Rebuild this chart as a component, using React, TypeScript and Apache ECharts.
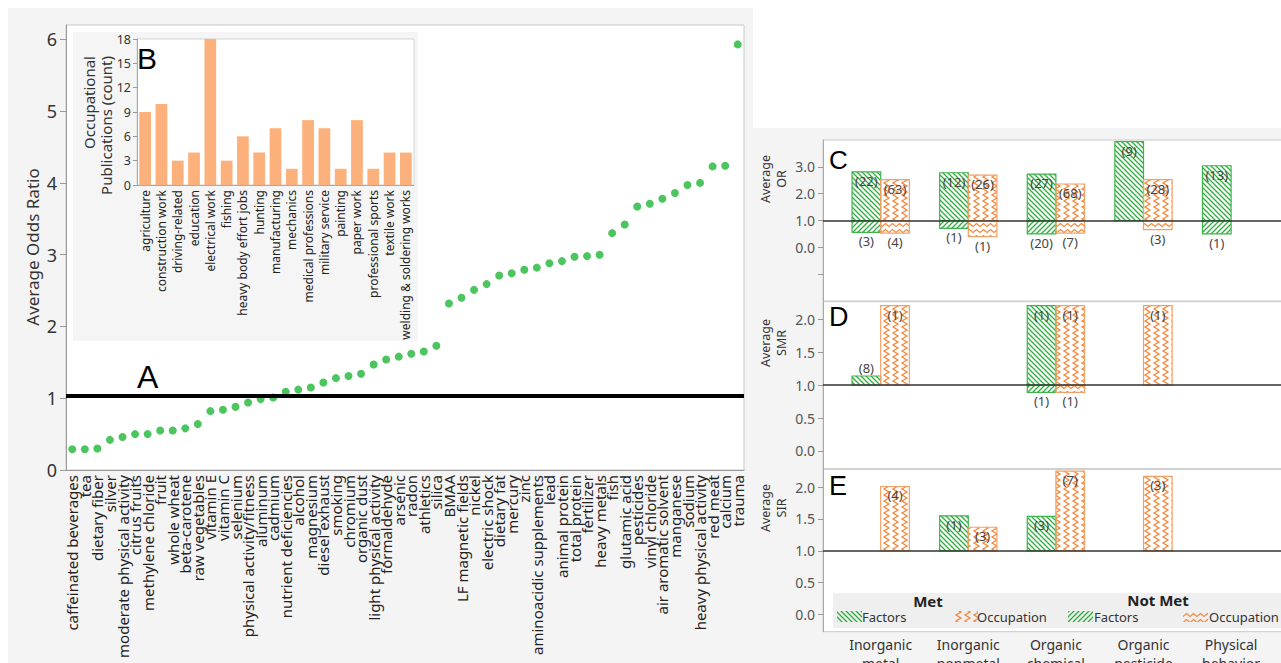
import React, { useEffect, useRef } from 'react';
import * as echarts from 'echarts';

const FONT = "'Noto Sans', 'Open Sans', sans-serif";
const LETTER_FONT = "'Liberation Sans', Arial, sans-serif";

// ---------- Panel A ----------
const factorNames = [
  'caffeinated beverages', 'tea', 'dietary fiber', 'silver', 'moderate physical activity',
  'citrus fruits', 'methylene chloride', 'fruit', 'whole wheat', 'beta-carotene',
  'raw vegetables', 'vitamin E', 'vitamin C', 'selenium', 'physical activity/fitness',
  'aluminum', 'cadmium', 'nutrient deficiencies', 'alcohol', 'magnesium',
  'diesel exhaust', 'smoking', 'chromium', 'organic dust', 'light physical activity',
  'formaldehyde', 'arsenic', 'radon', 'athletics', 'silica',
  'BMAA', 'LF magnetic fields', 'nickel', 'electric shock', 'dietary fat',
  'mercury', 'zinc', 'aminoacidic supplements', 'lead', 'animal protein',
  'total protein', 'fertilizer', 'heavy metals', 'fish', 'glutamic acid',
  'pesticides', 'vinyl chloride', 'air aromatic solvent', 'manganese', 'sodium',
  'heavy physical activity', 'red meat', 'calcium', 'trauma',
];
const averageOddsRatio = [
  0.29, 0.29, 0.30, 0.42, 0.46, 0.50, 0.50, 0.55, 0.55, 0.58,
  0.64, 0.82, 0.84, 0.88, 0.94, 0.99, 1.01, 1.09, 1.12, 1.15,
  1.22, 1.28, 1.31, 1.34, 1.47, 1.54, 1.58, 1.62, 1.65, 1.73,
  2.32, 2.40, 2.51, 2.59, 2.71, 2.74, 2.79, 2.82, 2.88, 2.91,
  2.97, 2.98, 3.00, 3.30, 3.42, 3.67, 3.71, 3.78, 3.86, 3.97,
  4.00, 4.23, 4.24, 5.93,
];
const oddsTicks = [0, 1, 2, 3, 4, 5, 6];
const oddsReference = 1.04;

// ---------- Panel B ----------
const occupations = [
  'agriculture', 'construction work', 'driving-related', 'education', 'electrical work',
  'fishing', 'heavy body effort jobs', 'hunting', 'manufacturing', 'mechanics',
  'medical professions', 'military service', 'painting', 'paper work', 'professional sports',
  'textile work', 'welding & soldering works',
];
const occupationalPublications = [9, 10, 3, 4, 18, 3, 6, 4, 7, 2, 8, 7, 2, 8, 2, 4, 4];

// ---------- Panels C, D, E ----------
const exposureClasses = [
  'Inorganic\nmetal', 'Inorganic\nnonmetal', 'Organic\nchemical', 'Organic\npesticide', 'Physical\nbehavior',
];
// C: Average OR
const orFactorsMet = [2.81, 2.78, 2.73, 3.94, 3.04];
const orFactorsMetN = [22, 12, 27, 9, 13];
const orOccupationMet = [2.52, 2.69, 2.36, 2.52, null];
const orOccupationMetN = [63, 26, 68, 28, null];
const orFactorsNotMet = [0.56, 0.71, 0.50, null, 0.50];
const orFactorsNotMetN = [3, 1, 20, null, 1];
const orOccupationNotMet = [0.53, 0.40, 0.53, 0.66, null];
const orOccupationNotMetN = [4, 1, 7, 3, null];
// D: Average SMR
const smrFactorsMet = [1.14, null, 2.21, null, null];
const smrFactorsMetN = [8, null, 1, null, null];
const smrOccupationMet = [2.21, null, 2.21, 2.21, null];
const smrOccupationMetN = [1, null, 1, 1, null];
const smrFactorsNotMet = [null, null, 0.89, null, null];
const smrFactorsNotMetN = [null, null, 1, null, null];
const smrOccupationNotMet = [null, null, 0.89, null, null];
const smrOccupationNotMetN = [null, null, 1, null, null];
// E: Average SIR
const sirFactorsMet = [null, 1.55, 1.54, null, null];
const sirFactorsMetN = [null, 1, 3, null, null];
const sirOccupationMet = [2.01, 1.37, 2.25, 2.17, null];
const sirOccupationMetN = [4, 3, 7, 3, null];

const orTicks = [-1, 0, 1, 2, 3];
const orLabels = [0, 1, 2, 3];
const ratioTicks = [0, 0.5, 1, 1.5, 2];

const GREEN = '#2fae3f';
const GREEN_EDGE = '#3cb34b';
const ORANGE = '#f5883c';
const ORANGE_EDGE = '#f3a066';
const DOT = '#1fb637';
const BAR_B = '#fcb07c';

type Kind = 'back' | 'slash' | 'zigV' | 'waveH';

function makePattern(kind: Kind) {
  let w = 5, h = 5;
  if (kind === 'zigV') { w = 9; h = 6; }
  if (kind === 'waveH') { w = 7; h = 6; }
  const c = document.createElement('canvas');
  c.width = w; c.height = h;
  const ctx = c.getContext('2d')!;
  ctx.lineWidth = 1.3;
  ctx.beginPath();
  if (kind === 'back') {
    ctx.strokeStyle = GREEN;
    for (let k = -1; k <= 1; k++) { ctx.moveTo(k * w - 1, -1); ctx.lineTo(k * w + w + 1, h + 1); }
  } else if (kind === 'slash') {
    ctx.strokeStyle = GREEN;
    for (let k = -1; k <= 1; k++) { ctx.moveTo(k * w - 1, h + 1); ctx.lineTo(k * w + w + 1, -1); }
  } else if (kind === 'zigV') {
    ctx.strokeStyle = ORANGE;
    ctx.moveTo(2, -3); ctx.lineTo(7, 0); ctx.lineTo(2, 3); ctx.lineTo(7, 6); ctx.lineTo(2, 9);
  } else {
    ctx.strokeStyle = ORANGE;
    ctx.moveTo(-3.5, 1.5); ctx.lineTo(0, 4.5); ctx.lineTo(3.5, 1.5); ctx.lineTo(7, 4.5); ctx.lineTo(10.5, 1.5);
  }
  ctx.stroke();
  return { image: c, repeat: 'repeat', imageWidth: w, imageHeight: h } as any;
}

// x positions in panel C/D/E value space (category index); grid spans these
const X_MIN = -0.6587;
const X_MAX = 4.7066;

function buildOption() {
  const patterns: Record<Kind, any> = {
    back: makePattern('back'),
    slash: makePattern('slash'),
    zigV: makePattern('zigV'),
    waveH: makePattern('waveH'),
  };

  const barSeries = (
    gridIdx: number,
    values: (number | null)[],
    counts: (number | null)[],
    isFactors: boolean,
    met: boolean,
    withRef: boolean,
  ) => {
    const kind: Kind = isFactors ? (met ? 'back' : 'slash') : (met ? 'zigV' : 'waveH');
    const data = values
      .map((v, i) => (v == null ? null : [i, v, counts[i]]))
      .filter((d) => d !== null);
    const s: any = {
      type: 'custom',
      xAxisIndex: gridIdx,
      yAxisIndex: gridIdx,
      clip: false,
      z: 3,
      encode: { x: 0, y: 1 },
      data,
      renderItem: (params: any, api: any) => {
        const idx = api.value(0);
        const v = api.value(1);
        const n = api.value(2);
        const base = api.coord([idx, 1]);
        const top = api.coord([idx, v]);
        const band = api.size([1, 0])[0];
        const w = band * 0.327;
        const x = isFactors ? base[0] - w : base[0];
        const y0 = Math.min(base[1], top[1]);
        const h = Math.abs(top[1] - base[1]);
        let ty: number;
        if (v >= 1) ty = h > 20 ? top[1] + 9 : top[1] - 8;
        else ty = top[1] + 9;
        return {
          type: 'group',
          children: [
            {
              type: 'rect',
              shape: { x, y: y0, width: w, height: h },
              style: {
                fill: patterns[kind],
                stroke: isFactors ? GREEN_EDGE : ORANGE_EDGE,
                lineWidth: 1.2,
              },
            },
            {
              type: 'text',
              style: {
                text: '(' + n + ')',
                x: x + w / 2,
                y: ty,
                align: 'center',
                verticalAlign: 'middle',
                textAlign: 'center',
                textVerticalAlign: 'middle',
                fontSize: 13,
                fontFamily: FONT,
                fill: '#444',
              },
            },
          ],
        };
      },
    };
    if (withRef) {
      s.markLine = {
        silent: true,
        symbol: 'none',
        label: { show: false },
        lineStyle: { color: '#333', width: 1.5, type: 'solid' },
        data: [{ yAxis: 1 }],
      };
    }
    return s;
  };

  const panelX = (gridIndex: number, showLabels: boolean) => ({
    gridIndex,
    type: 'value',
    min: X_MIN,
    max: X_MAX,
    axisLine: { show: false, onZero: false },
    axisTick: { show: false },
    splitLine: { show: false },
    axisLabel: showLabels
      ? {
          show: true,
          customValues: [0, 1, 2, 3, 4],
          formatter: (v: number) => exposureClasses[Math.round(v)],
          fontSize: 14,
          lineHeight: 19,
          color: '#333',
          fontFamily: FONT,
          margin: 3,
        }
      : { show: false },
  });

  const panelY = (gridIndex: number, min: number, max: number, labels: number[], ticks: number[]) => ({
    gridIndex,
    type: 'value',
    min,
    max,
    axisLine: { show: true, onZero: false, lineStyle: { color: '#aaa' } },
    axisTick: { show: true, length: 5, customValues: ticks, lineStyle: { color: '#999' } },
    splitLine: { show: false },
    axisLabel: {
      customValues: labels,
      formatter: (v: number) => v.toFixed(1),
      fontSize: 14,
      color: '#555',
      fontFamily: FONT,
      margin: 8,
    },
  });

  const rotText = (text: string, x: number, y: number, size: number, align = 'center') => ({
    type: 'text',
    x,
    y,
    rotation: Math.PI / 2,
    z: 20,
    style: {
      text,
      fontSize: size,
      fontFamily: FONT,
      fill: '#333',
      align,
      textAlign: align,
      verticalAlign: 'middle',
      textVerticalAlign: 'middle',
    },
  });

  const plainText = (
    text: string, x: number, y: number, size: number, opts: any = {},
  ) => ({
    type: 'text',
    x,
    y,
    z: opts.z ?? 20,
    style: {
      text,
      fontSize: size,
      fontFamily: opts.fontFamily ?? FONT,
      fontWeight: opts.fontWeight ?? 'normal',
      fill: opts.fill ?? '#222',
      align: opts.align ?? 'left',
      textAlign: opts.align ?? 'left',
      verticalAlign: 'middle',
      textVerticalAlign: 'middle',
    },
  });

  const legendIcon = (kind: Kind, x: number) => ({
    type: 'rect',
    z: 21,
    shape: { x, y: 611, width: 25, height: 11 },
    style: { fill: patterns[kind], stroke: 'none' },
  });

  const g = { show: true, backgroundColor: '#fff', borderColor: '#c8c8c8', outerBoundsMode: 'none', containLabel: false };

  return {
    animation: false,
    textStyle: { fontFamily: FONT },
    grid: [
      { ...g, left: 66, top: 25, width: 678, height: 445, z: 0 },
      { ...g, left: 137, top: 39, width: 277, height: 146, borderColor: '#d4d4d4', z: 2 },
      { ...g, left: 823, top: 140, width: 470, height: 161 },
      { ...g, left: 823, top: 301.7, width: 470, height: 167 },
      { ...g, left: 823, top: 469.3, width: 470, height: 162.4 },
    ],
    xAxis: [
      {
        gridIndex: 0,
        type: 'category',
        data: factorNames,
        boundaryGap: true,
        z: 1,
        axisLine: { onZero: false, lineStyle: { color: '#999' } },
        axisTick: { show: false },
        axisLabel: { rotate: 90, interval: 0, fontSize: 15, color: '#222', fontFamily: FONT, margin: 5 },
      },
      {
        gridIndex: 1,
        type: 'category',
        data: occupations,
        z: 4,
        axisLine: { onZero: false, lineStyle: { color: '#aaa' } },
        axisTick: { show: false },
        axisLabel: { rotate: 90, interval: 0, fontSize: 12, color: '#222', fontFamily: FONT, margin: 5 },
      },
      panelX(2, false),
      panelX(3, false),
      panelX(4, true),
    ],
    yAxis: [
      {
        gridIndex: 0,
        type: 'value',
        min: 0,
        max: 6.2,
        z: 1,
        axisLine: { show: true, onZero: false, lineStyle: { color: '#999' } },
        axisTick: { show: true, length: 6, customValues: oddsTicks, lineStyle: { color: '#999' } },
        splitLine: { show: false },
        axisLabel: { customValues: oddsTicks, fontSize: 18, color: '#333', fontFamily: FONT, margin: 9 },
      },
      {
        gridIndex: 1,
        type: 'value',
        min: 0,
        max: 18,
        interval: 3,
        z: 4,
        axisLine: { show: true, onZero: false, lineStyle: { color: '#aaa' } },
        axisTick: { show: true, length: 4, lineStyle: { color: '#999' } },
        splitLine: { show: false },
        axisLabel: { fontSize: 12.5, color: '#333', fontFamily: FONT, margin: 6 },
      },
      panelY(2, -2, 4, orLabels, orTicks),
      panelY(3, -0.27, 2.27, ratioTicks, ratioTicks),
      panelY(4, -0.27, 2.28, ratioTicks, ratioTicks),
    ],
    graphic: [
      { type: 'rect', z: -10, shape: { x: 8, y: 8, width: 745, height: 655 }, style: { fill: '#f4f4f4' } },
      { type: 'rect', z: -10, shape: { x: 753, y: 128, width: 528, height: 535 }, style: { fill: '#f4f4f4' } },
      { type: 'rect', z: 1, shape: { x: 73, y: 32, width: 345, height: 309 }, style: { fill: '#f5f5f5' } },
      // axis titles
      rotText('Average Odds Ratio', 32, 247, 17),
      rotText('Occupational', 89, 56, 15, 'right'),
      rotText('Publications (count)', 106, 56, 15, 'right'),
      rotText('Average', 765, 179, 12.5),
      rotText('OR', 781, 179, 12.5),
      rotText('Average', 765, 343, 12.5),
      rotText('SMR', 781, 343, 12.5),
      rotText('Average', 765, 508, 12.5),
      rotText('SIR', 781, 508, 12.5),
      // panel letters
      plainText('A', 137, 377, 32, { fontFamily: LETTER_FONT, fill: '#000' }),
      plainText('B', 137, 58, 30, { fontFamily: LETTER_FONT, fill: '#000' }),
      plainText('C', 829, 160, 26, { fontFamily: LETTER_FONT, fill: '#000' }),
      plainText('D', 829, 317, 27, { fontFamily: LETTER_FONT, fill: '#000' }),
      plainText('E', 829, 486, 27, { fontFamily: LETTER_FONT, fill: '#000' }),
      // legend
      { type: 'rect', z: 19, shape: { x: 833, y: 593, width: 448, height: 35 }, style: { fill: '#efefef' } },
      plainText('Met', 928, 601, 15, { fontWeight: 'bold', align: 'center', z: 21 }),
      plainText('Not Met', 1158, 600, 15, { fontWeight: 'bold', align: 'center', z: 21 }),
      legendIcon('back', 837),
      plainText('Factors', 862, 617, 13, { z: 21, fill: '#333' }),
      legendIcon('zigV', 953),
      plainText('Occupation', 977, 617, 13, { z: 21, fill: '#333' }),
      legendIcon('slash', 1068),
      plainText('Factors', 1094, 617, 13, { z: 21, fill: '#333' }),
      legendIcon('waveH', 1183),
      plainText('Occupation', 1209, 617, 13, { z: 21, fill: '#333' }),
    ],
    series: [
      {
        type: 'scatter',
        xAxisIndex: 0,
        yAxisIndex: 0,
        data: averageOddsRatio,
        symbolSize: 8,
        itemStyle: { color: DOT },
        z: 3,
        markLine: {
          silent: true,
          symbol: 'none',
          label: { show: false },
          lineStyle: { color: '#000', width: 4, type: 'solid' },
          data: [{ yAxis: oddsReference }],
        },
      },
      {
        type: 'bar',
        xAxisIndex: 1,
        yAxisIndex: 1,
        data: occupationalPublications,
        barCategoryGap: '28%',
        itemStyle: { color: BAR_B },
        z: 5,
      },
      barSeries(2, orFactorsMet, orFactorsMetN, true, true, true),
      barSeries(2, orOccupationMet, orOccupationMetN, false, true, false),
      barSeries(2, orFactorsNotMet, orFactorsNotMetN, true, false, false),
      barSeries(2, orOccupationNotMet, orOccupationNotMetN, false, false, false),
      barSeries(3, smrFactorsMet, smrFactorsMetN, true, true, true),
      barSeries(3, smrOccupationMet, smrOccupationMetN, false, true, false),
      barSeries(3, smrFactorsNotMet, smrFactorsNotMetN, true, false, false),
      barSeries(3, smrOccupationNotMet, smrOccupationNotMetN, false, false, false),
      barSeries(4, sirFactorsMet, sirFactorsMetN, true, true, true),
      barSeries(4, sirOccupationMet, sirOccupationMetN, false, true, false),
    ],
  };
}

export default function App() {
  const ref = useRef<HTMLDivElement>(null);
  useEffect(() => {
    const chart = echarts.init(ref.current!, null, { renderer: 'svg' });
    chart.setOption(buildOption() as any);
    return () => chart.dispose();
  }, []);
  return (
    <div
      ref={ref}
      style={{ position: 'absolute', left: 0, top: 0, width: 1281, height: 663, background: '#fff' }}
    />
  );
}
